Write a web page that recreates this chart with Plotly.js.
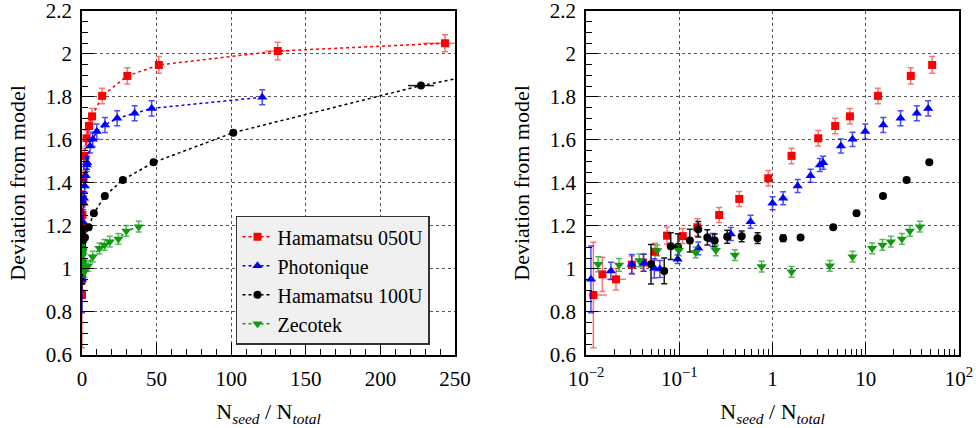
<!DOCTYPE html>
<html>
<head>
<meta charset="utf-8">
<script src="https://cdn.plot.ly/plotly-3.0.1.min.js"></script>
<style>
html,body{margin:0;padding:0;background:#fff;}
#chart{width:976px;height:428px;}
</style>
</head>
<body>
<div id="chart"></div>
<script>
// ---------- data ----------
const seriesNames = ['Hamamatsu 050U', 'Photonique', 'Hamamatsu 100U', 'Zecotek'];

const x050 = [0.012, 0.015, 0.021, 0.031, 0.041, 0.055, 0.074, 0.109, 0.156, 0.268, 0.44, 0.90, 1.60, 3.09, 4.70, 6.76, 13.5, 30.4, 51.5, 131.2, 243.3];
const y050 = [0.879, 0.975, 0.952, 1.020, 1.030, 1.080, 1.155, 1.153, 1.194, 1.251, 1.326, 1.422, 1.526, 1.608, 1.665, 1.710, 1.805, 1.898, 1.949, 2.014, 2.050];
const ey050 = [0.245, 0.08, 0.05, 0.04, 0.04, 0.04, 0.04, 0.035, 0.04, 0.035, 0.035, 0.036, 0.036, 0.036, 0.036, 0.036, 0.036, 0.038, 0.039, 0.041, 0.040];
const ex050p = [0.0047, 0, 0.0058, 0, 0, 0, 0, 0, 0, 0, 0, 0, 0, 0, 0, 0, 0, 0, 0, 8.2, 8.0];
const ex050m = [0.0014, 0, 0.0043, 0, 0, 0, 0, 0, 0, 0, 0, 0, 0, 0, 0, 0, 0, 0, 0, 8.5, 14.7];

const xPho = [0.0113, 0.0185, 0.031, 0.0417, 0.054, 0.062, 0.096, 0.16, 0.228, 0.357, 0.582, 1.0, 1.30, 1.86, 2.56, 3.22, 3.49, 5.41, 7.21, 9.87, 15.4, 23.6, 35.3, 46.7, 120.8];
const yPho = [0.952, 0.991, 1.022, 1.029, 1.003, 1.000, 1.045, 1.096, 1.135, 1.163, 1.220, 1.306, 1.329, 1.386, 1.434, 1.484, 1.494, 1.572, 1.603, 1.639, 1.670, 1.701, 1.724, 1.747, 1.799];
const eyPho = [0.155, 0.04, 0.045, 0.04, 0.045, 0.04, 0.02, 0.03, 0.03, 0.03, 0.03, 0.03, 0.03, 0.03, 0.03, 0.03, 0.03, 0.033, 0.033, 0.035, 0.035, 0.035, 0.035, 0.035, 0.035];

const x100 = [0.0498, 0.069, 0.081, 0.097, 0.130, 0.160, 0.20, 0.24, 0.327, 0.467, 0.692, 1.30, 2.0, 4.48, 7.96, 15.3, 27.4, 48.0, 101.4, 227.2];
const y100 = [1.022, 0.991, 1.106, 1.104, 1.132, 1.185, 1.147, 1.133, 1.150, 1.152, 1.143, 1.143, 1.147, 1.194, 1.259, 1.340, 1.414, 1.496, 1.634, 1.853];
const ey100 = [0.092, 0.06, 0.062, 0.06, 0.053, 0.036, 0.035, 0.03, 0.03, 0.025, 0.025, 0.015, 0.008, 0.005, 0.005, 0.005, 0.005, 0.005, 0.005, 0.005];
const ex100 = [0, 0, 0, 0, 0, 0, 0, 0, 0, 0, 0, 0, 0, 0, 0, 0, 0, 0, 0, 8.7];
// visible continuation of the 100U line to the right frame edge
const ext100X = [227.2, 250];
const ext100Y = [1.853, 1.884];

const xZec = [0.0135, 0.0226, 0.0373, 0.058, 0.099, 0.150, 0.247, 0.395, 0.764, 1.60, 4.12, 7.21, 11.7, 15.1, 18.6, 24.4, 29.7, 38.0];
const yZec = [1.022, 1.019, 1.040, 1.086, 1.087, 1.077, 1.087, 1.065, 1.011, 0.987, 1.015, 1.057, 1.096, 1.112, 1.127, 1.140, 1.177, 1.197];
const eyZec = [0.035, 0.03, 0.03, 0.025, 0.025, 0.025, 0.025, 0.025, 0.025, 0.025, 0.025, 0.025, 0.025, 0.025, 0.025, 0.025, 0.025, 0.025];

const logTickVals = [0.01, 0.1, 1, 10, 100];
const logTickText = ['10<sup>\u22122</sup>', '10<sup>\u22121</sup>', '1', '10', '10<sup>2</sup>'];

// ---------- styles ----------
const FONT = 'Liberation Serif, DejaVu Serif, Times, serif';
const LOG_MAX = 100;
const styles = [
  {color: '#ff0000', err: 'rgba(255,40,40,0.65)', symbol: 'square', size: 8},
  {color: '#0000ff', err: 'rgba(0,0,255,0.7)', symbol: 'triangle-up', size: 9},
  {color: '#000000', err: 'rgba(0,0,0,0.9)', symbol: 'circle', size: 8},
  {color: '#119911', err: 'rgba(17,153,17,0.7)', symbol: 'triangle-down', size: 9}
];
const sets = [
  {x: x050, y: y050, ey: ey050, exp: ex050p, exm: ex050m},
  {x: xPho, y: yPho, ey: eyPho},
  {x: x100, y: y100, ey: ey100, exp: ex100, exm: ex100},
  {x: xZec, y: yZec, ey: eyZec}
];

function pick(arr, idx) { return arr ? idx.map(i => arr[i]) : undefined; }

const traces = [];
sets.forEach((s, i) => {
  const st = styles[i];
  [0, 1].forEach(panel => {
    // ROOT does not draw points whose centre lies outside the frame
    const idx = s.x.map((v, k) => k).filter(k => panel === 0 || s.x[k] <= LOG_MAX);
    const t = {
      type: 'scatter',
      x: pick(s.x, idx), y: pick(s.y, idx),
      name: seriesNames[i],
      legendgroup: 'g' + i,
      showlegend: panel === 0,
      mode: panel === 0 ? 'lines+markers' : 'markers',
      xaxis: panel === 0 ? 'x' : 'x2',
      yaxis: panel === 0 ? 'y' : 'y2',
      line: {color: st.color, width: 1.5, dash: '3px,3px'},
      marker: {color: st.color, symbol: st.symbol, size: st.size, line: {width: 0}},
      error_y: {type: 'data', array: pick(s.ey, idx), visible: true, color: st.err, thickness: 1.5, width: 3},
      hoverinfo: 'x+y'
    };
    if (s.exp) {
      t.error_x = {type: 'data', symmetric: false, array: pick(s.exp, idx), arrayminus: pick(s.exm, idx), visible: true, color: st.err, thickness: 1.5, width: 0};
    }
    traces.push(t);
  });
});
traces.push({
  type: 'scatter', x: ext100X, y: ext100Y, mode: 'lines', xaxis: 'x', yaxis: 'y',
  showlegend: false, line: {color: '#000', width: 1.5, dash: '3px,3px'}, hoverinfo: 'skip'
});

function f(size) { return {family: FONT, size: size, color: '#000000'}; }

const yTitle = {text: 'Deviation from model', font: f(22), standoff: 14};
const xTitle = {text: 'N<sub><i>seed</i></sub> / N<sub><i>total</i></sub>', font: f(22), standoff: 14};

function axisBase() {
  return {
    showline: true, mirror: true, linecolor: '#000', linewidth: 1.5,
    ticks: 'inside', ticklen: 12, tickwidth: 1, tickcolor: '#000',
    showgrid: true, gridcolor: '#555', gridwidth: 1, griddash: 'dot',
    zeroline: false,
    tickfont: f(21),
    ticklabelstandoff: 4,
    ticklabeloverflow: 'allow'
  };
}
function yAxis(anchor) {
  return Object.assign(axisBase(), {
    range: [0.6, 2.2], tickmode: 'linear', tick0: 0.6, dtick: 0.2,
    domain: [0.1706, 0.9743], title: yTitle, anchor: anchor,
    minor: {dtick: 0.05, tick0: 0.6, ticklen: 6, tickcolor: '#000', ticks: 'inside', showgrid: false}
  });
}

const layout = {
  width: 976, height: 428,
  margin: {l: 0, r: 0, t: 0, b: 0},
  paper_bgcolor: '#fff', plot_bgcolor: '#fff',
  showlegend: true,
  font: f(20),
  xaxis: Object.assign(axisBase(), {
    domain: [0.0840, 0.4662], range: [0, 250], tickmode: 'linear', tick0: 0, dtick: 50,
    anchor: 'y', title: xTitle,
    minor: {dtick: 10, tick0: 0, ticklen: 6, tickcolor: '#000', ticks: 'inside', showgrid: false}
  }),
  yaxis: yAxis('x'),
  xaxis2: Object.assign(axisBase(), {
    domain: [0.6004, 0.9826], type: 'log', range: [-2, 2],
    tickmode: 'array', tickvals: logTickVals, ticktext: logTickText,
    anchor: 'y2', title: xTitle,
    minor: {dtick: 'D1', ticklen: 6, tickcolor: '#000', ticks: 'inside', showgrid: false}
  }),
  yaxis2: yAxis('x2'),
  legend: {
    x: 0.2418, y: 0.496, xanchor: 'left', yanchor: 'top',
    bgcolor: '#f0f0f0', bordercolor: '#333', borderwidth: 1.5,
    font: f(20),
    tracegroupgap: 4, traceorder: 'normal'
  }
};

Plotly.newPlot('chart', traces, layout, {displayModeBar: false}).then(gd => {
  // also give every text a plain font-family presentation attribute
  gd.querySelectorAll('text').forEach(el => el.setAttribute('font-family', FONT));
});
</script>
</body>
</html>
